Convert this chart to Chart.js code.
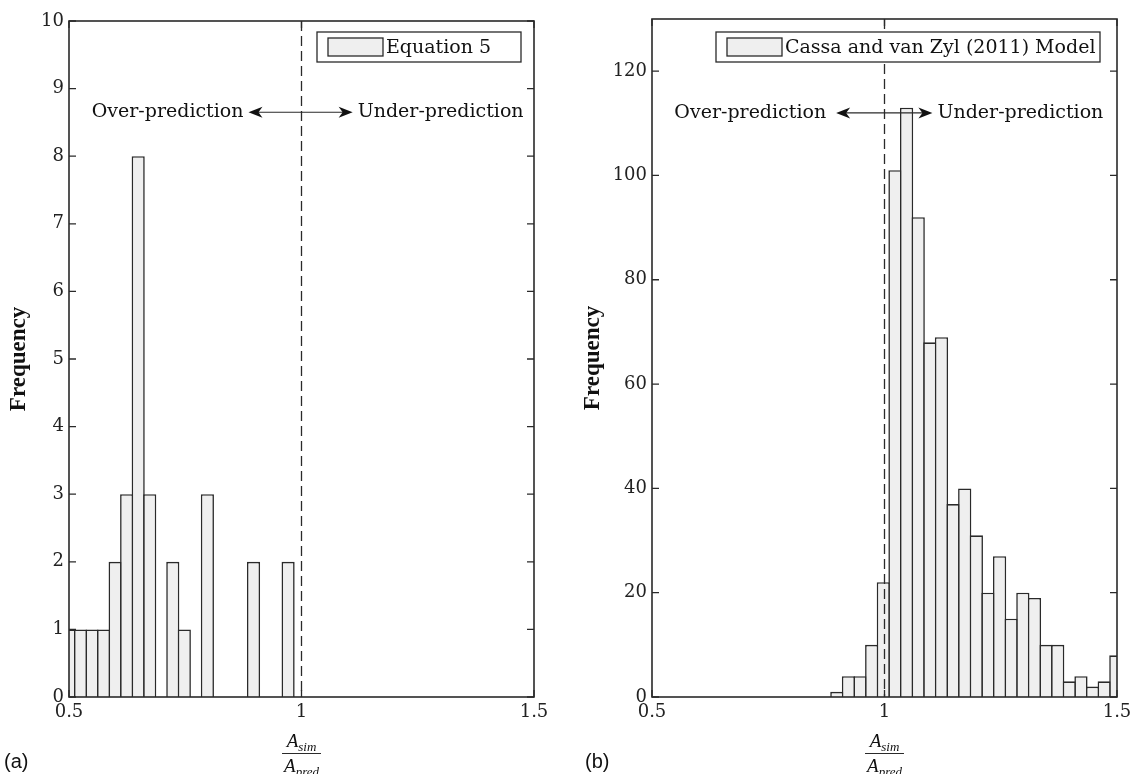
<!DOCTYPE html>
<html>
<head>
<meta charset="utf-8">
<script src="https://cdn.jsdelivr.net/npm/chart.js@4.4.0/dist/chart.umd.min.js"></script>
<style>
  html, body { margin: 0; padding: 0; background: #fff; }
  #wrap { position: relative; width: 1130px; height: 774px; }
  .panel { position: absolute; top: 0; width: 565px; height: 774px; }
</style>
</head>
<body>
<div id="wrap">
  <div class="panel" style="left:0"><canvas id="chartA"></canvas></div>
  <div class="panel" style="left:565px"><canvas id="chartB"></canvas></div>
</div>
<script>
// (a) Equation 5 -- bin centres and counts
const binsA = [0.5, 0.5248, 0.5496, 0.5744, 0.5992, 0.624, 0.6488, 0.6736, 0.6984, 0.7232,
  0.748, 0.7728, 0.7976, 0.8224, 0.8472, 0.872, 0.8968, 0.9216, 0.9464, 0.9712];
const countsA = [1, 1, 1, 1, 2, 3, 8, 3, 0, 2, 1, 0, 3, 0, 0, 0, 2, 0, 0, 2];

// (b) Cassa and van Zyl (2011) Model
const binsB = [0.8975, 0.9225, 0.9475, 0.9725, 0.9975, 1.0225, 1.0475, 1.0725, 1.0975, 1.1225,
  1.1475, 1.1725, 1.1975, 1.2225, 1.2475, 1.2725, 1.2975, 1.3225, 1.3475, 1.3725,
  1.3975, 1.4225, 1.4475, 1.4725, 1.4975];
const countsB = [1, 4, 4, 10, 22, 101, 113, 92, 68, 69, 37, 40, 31, 20, 27, 15, 20, 19, 10, 10,
  3, 4, 2, 3, 8];

const xTicks = [0.5, 1, 1.5];
const yTicksA = [0, 1, 2, 3, 4, 5, 6, 7, 8, 9, 10];
const yTicksB = [0, 20, 40, 60, 80, 100, 120];

const INK = "#2a2a2a";
const FILL = "#efefef";
const SERIF = "'DejaVu Serif', serif";

// frame, inward ticks, dashed line at 1, legend box, arrows, fraction label
const decor = {
  id: "decor",
  afterDatasetsDraw(chart, args, o) {
    const { ctx, chartArea: a } = chart;
    const xs = chart.scales.x, ys = chart.scales.y;
    ctx.save();

    // dashed reference line
    ctx.strokeStyle = INK;
    ctx.lineWidth = 1.3;
    ctx.setLineDash([10, 5]);
    const xd = xs.getPixelForValue(1);
    ctx.beginPath();
    ctx.moveTo(xd, a.top);
    ctx.lineTo(xd, a.bottom);
    ctx.stroke();
    ctx.setLineDash([]);

    // frame + ticks
    ctx.lineWidth = 1.6;
    ctx.strokeRect(a.left, a.top, a.right - a.left, a.bottom - a.top);
    ctx.lineWidth = 1.3;
    ctx.beginPath();
    ys.ticks.forEach(t => {
      const y = ys.getPixelForValue(t.value);
      ctx.moveTo(a.left, y); ctx.lineTo(a.left + 7, y);
      ctx.moveTo(a.right, y); ctx.lineTo(a.right - 7, y);
    });
    xs.ticks.forEach(t => {
      const x = xs.getPixelForValue(t.value);
      ctx.moveTo(x, a.bottom); ctx.lineTo(x, a.bottom - 7);
      ctx.moveTo(x, a.top); ctx.lineTo(x, a.top + 7);
    });
    ctx.stroke();

    // over / under prediction arrows
    const ya = ys.getPixelForValue(o.arrowY);
    const x1 = xs.getPixelForValue(o.arrowFrom), x2 = xs.getPixelForValue(o.arrowTo);
    ctx.lineWidth = 1.2;
    ctx.beginPath();
    ctx.moveTo(x1 + 6, ya); ctx.lineTo(x2 - 6, ya);
    ctx.stroke();
    const head = (tip, dir) => {
      ctx.beginPath();
      ctx.moveTo(tip, ya);
      ctx.lineTo(tip + dir * 14, ya - 5.5);
      ctx.lineTo(tip + dir * 10, ya);
      ctx.lineTo(tip + dir * 14, ya + 5.5);
      ctx.closePath();
      ctx.fillStyle = "#111";
      ctx.fill();
    };
    head(x1, 1);
    head(x2, -1);
    ctx.fillStyle = "#111";
    ctx.font = "19px " + SERIF;
    ctx.textBaseline = "middle";
    ctx.textAlign = "right";
    ctx.fillText("Over-prediction", x1 - o.textGap[0], ya);
    ctx.textAlign = "left";
    ctx.fillText("Under-prediction", x2 + o.textGap[1], ya);

    // legend box
    const label = chart.data.datasets[0].label;
    ctx.font = "19px " + SERIF;
    const bw = o.legendWidth, bh = 30;
    const bx = a.right - o.legendRight - bw, by = o.legendTop;
    ctx.fillStyle = "#fff";
    ctx.fillRect(bx, by, bw, bh);
    ctx.strokeStyle = INK;
    ctx.lineWidth = 1.3;
    ctx.strokeRect(bx, by, bw, bh);
    ctx.fillStyle = FILL;
    ctx.fillRect(bx + 11, by + 6, 55, bh - 12);
    ctx.strokeRect(bx + 11, by + 6, 55, bh - 12);
    ctx.fillStyle = "#111";
    ctx.textAlign = "left";
    ctx.fillText(label, bx + 69, by + bh / 2 + 1);

    // x label: A_sim / A_pred
    const cx = (a.left + a.right) / 2;
    const sub = "italic 13px 'Liberation Serif', serif";
    const frac = (main, s, base) => {
      ctx.font = "italic 19px 'Liberation Serif', serif";
      const w1 = ctx.measureText(main).width;
      ctx.font = sub;
      const w2 = ctx.measureText(s).width;
      const x0 = cx - (w1 + w2) / 2;
      ctx.font = "italic 19px 'Liberation Serif', serif";
      ctx.textBaseline = "alphabetic";
      ctx.fillText(main, x0, base);
      ctx.font = sub;
      ctx.fillText(s, x0 + w1, base + 4);
      return w1 + w2;
    };
    const wn = frac("A", "sim", 747);
    const wd = frac("A", "pred", 772);
    const lw = Math.max(wn, wd) + 4;
    ctx.lineWidth = 1.2;
    ctx.beginPath();
    ctx.moveTo(cx - lw / 2, 753.5);
    ctx.lineTo(cx + lw / 2, 753.5);
    ctx.stroke();

    // panel letter
    ctx.font = "20px 'Liberation Sans', sans-serif";
    ctx.textAlign = "left";
    ctx.textBaseline = "alphabetic";
    ctx.fillText(o.letter, o.letterX, 768);

    ctx.restore();
  }
};

function makeChart(id, cfg) {
  return new Chart(document.getElementById(id), {
    type: "bar",
    data: {
      datasets: [{
        label: cfg.label,
        data: cfg.bins.map((b, i) => ({ x: b, y: cfg.counts[i] })),
        backgroundColor: FILL,
        borderColor: INK,
        borderWidth: 1.6,
        borderSkipped: "start",
        barPercentage: 1.14,
        categoryPercentage: 1,
        clip: { left: 0, right: 0, top: false, bottom: 0 }
      }]
    },
    options: {
      responsive: true,
      maintainAspectRatio: false,
      animation: false,
      layout: { padding: { top: cfg.padTop, right: cfg.padRight, left: 0, bottom: 0 } },
      plugins: {
        legend: { display: false },
        tooltip: { enabled: false },
        decor: cfg.decor
      },
      scales: {
        x: {
          type: "linear",
          offset: false,
          min: 0.5, max: 1.5,
          afterBuildTicks: s => { s.ticks = xTicks.map(v => ({ value: v })); },
          afterFit: s => { s.height = 77; s.paddingLeft = 0; s.paddingRight = 0; },
          grid: { display: false, drawTicks: false, offset: false },
          border: { display: false },
          ticks: { padding: 5, color: "#222", font: { family: "'DejaVu Serif', serif", size: 18 },
            callback: v => String(v) }
        },
        y: {
          min: 0, max: cfg.yMax,
          afterBuildTicks: s => { s.ticks = cfg.yTicks.map(v => ({ value: v })); },
          afterFit: s => { s.width = cfg.yWidth; },
          grid: { display: false, drawTicks: false },
          border: { display: false },
          ticks: { padding: 5, color: "#222", font: { family: "'DejaVu Serif', serif", size: 18 } },
          title: {
            display: true, text: "Frequency", color: "#111",
            font: { family: "'Liberation Serif', serif", size: 23, weight: "bold", lineHeight: 1.2 },
            padding: { top: cfg.titlePad, bottom: 0 }
          }
        }
      }
    },
    plugins: [decor]
  });
}

makeChart("chartA", {
  label: "Equation 5",
  bins: binsA, counts: countsA,
  yMax: 10, yTicks: yTicksA, yWidth: 69, titlePad: 5,
  padTop: 21, padRight: 31,
  decor: { arrowY: 8.65, arrowFrom: 0.886, arrowTo: 1.11, textGap: [5, 5],
    legendRight: 13, legendTop: 32, legendWidth: 204, letter: "(a)", letterX: 4 }
});

makeChart("chartB", {
  label: "Cassa and van Zyl (2011) Model",
  bins: binsB, counts: countsB,
  yMax: 130, yTicks: yTicksB, yWidth: 87, titlePad: 14,
  padTop: 19, padRight: 13,
  decor: { arrowY: 112, arrowFrom: 0.896, arrowTo: 1.103, textGap: [10, 5],
    legendRight: 17, legendTop: 32, legendWidth: 384, letter: "(b)", letterX: 20 }
});
</script>
</body>
</html>
